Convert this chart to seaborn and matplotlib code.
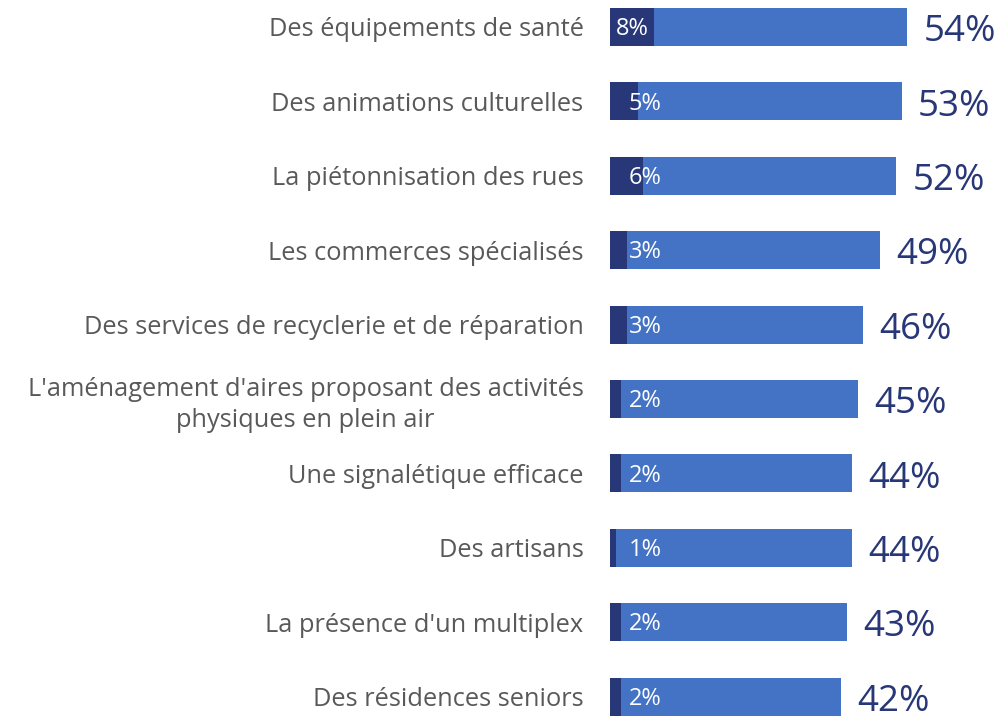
import matplotlib
matplotlib.use("Agg")
import matplotlib.pyplot as plt
import seaborn as sns
import pandas as pd

categories = [
    "Des équipements de santé",
    "Des animations culturelles",
    "La piétonnisation des rues",
    "Les commerces spécialisés",
    "Des services de recyclerie et de réparation",
    "L'aménagement d'aires proposant des activités\nphysiques en plein air",
    "Une signalétique efficace",
    "Des artisans",
    "La présence d'un multiplex",
    "Des résidences seniors",
]
first_choice = [8, 5, 6, 3, 3, 2, 2, 1, 2, 2]
total = [54, 53, 52, 49, 46, 45, 44, 44, 43, 42]

df = pd.DataFrame({"cat": categories, "first": first_choice, "total": total})

sns.set_theme(style="white")
plt.rcParams["font.family"] = ["Open Sans", "DejaVu Sans"]

DARK = "#283777"
LIGHT = "#4472C4"
GREY = "#595959"

fig = plt.figure(figsize=(9.99, 7.21), dpi=100)
ax = fig.add_axes([610 / 999, 0, 1 - 610 / 999, 1])

sns.barplot(data=df, x="total", y="cat", color=LIGHT, width=0.51,
            saturation=1, orient="h", linewidth=0, ax=ax)
sns.barplot(data=df, x="first", y="cat", color=DARK, width=0.51,
            saturation=1, orient="h", linewidth=0, ax=ax)

ax.set_xlim(0, 389 / 5.5)
ax.set_ylim((721 - 27) / 74.4, -27 / 74.4)
ax.set_xlabel("")
ax.set_ylabel("")
ax.set_xticks([])
for s in ax.spines.values():
    s.set_visible(False)

ax.tick_params(axis="y", length=0, pad=19, labelsize=18.3, labelcolor=GREY)
for lab in ax.get_yticklabels():
    lab.set_multialignment("center")
    lab.set_linespacing(1.3)

for i, (f, t) in enumerate(zip(first_choice, total)):
    xc = f / 2 if f >= 8 else 6.4
    ax.text(xc, i + 0.03, f"{f}%", ha="center", va="center", color="white",
            fontsize=17)
    ax.text(t + 3.0, i + 0.07, f"{t}%", ha="left", va="center", color=DARK,
            fontsize=26.5)

fig.savefig("out.png", dpi=100)
